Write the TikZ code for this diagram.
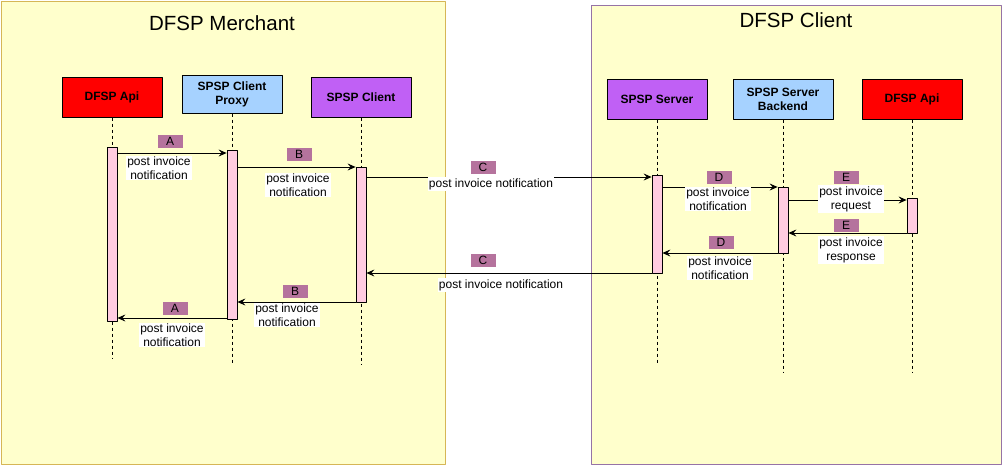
\documentclass[tikz,border=0pt]{standalone}
\usepackage{fontspec}
\setmainfont{Liberation Sans}
\usetikzlibrary{arrows.meta}
\definecolor{panelfill}{HTML}{FFFFCC}
\definecolor{goldline}{HTML}{D6B656}
\definecolor{mauveline}{HTML}{9673A6}
\definecolor{apired}{HTML}{FF0000}
\definecolor{proxyblue}{HTML}{A6D2FF}
\definecolor{spspviolet}{HTML}{C060F5}
\definecolor{barpink}{HTML}{FFCCE0}
\definecolor{tagmauve}{HTML}{B5739D}
\begin{document}
\begin{tikzpicture}[x=1pt, y=-1pt, line join=round, line width=0.8pt,
    >={Stealth[length=8pt,width=7pt,inset=3pt]},
    head/.style={draw, line width=1pt, minimum width=100pt, inner sep=0pt, align=center,
        font=\bfseries\fontsize{12}{14}\selectfont},
    bar/.style={draw, fill=barpink, minimum width=10pt, inner sep=0pt, anchor=north},
    tag/.style={fill=tagmauve, minimum width=25pt, minimum height=13pt, inner sep=0pt,
        font=\fontsize{12}{13}\selectfont},
    msg/.style={fill=white, align=center, inner sep=1pt, font=\fontsize{12}{14}\selectfont}]
    \useasboundingbox (0,0) rectangle (1004,467);
    % the two panels
    \draw[fill=panelfill, draw=goldline] (1,1) rectangle (445,464);
    \draw[fill=panelfill, draw=mauveline] (591,5) rectangle (1001,464);
    \node[font=\fontsize{20.5}{24}\selectfont] (merchant) at (222,23) {DFSP Merchant};
    \node[font=\fontsize{20.5}{24}\selectfont] (client) at (796,20) {DFSP Client};
    % lifeline heads
    \foreach \n/\x/\y/\h/\c/\t in {apiL/112/97/40/apired/{DFSP Api}, proxy/232/94/38/proxyblue/{SPSP Client\\Proxy},
        spcl/361/97/40/spspviolet/{SPSP Client}, spsv/657/99/40/spspviolet/{SPSP Server},
        back/783/99/40/proxyblue/{SPSP Server\\Backend}, apiR/912/99/40/apired/{DFSP Api}}
    \node[head, fill=\c, minimum height=\h pt] (\n) at (\x,\y) {\t};
    % dashed lifelines
    \foreach \n/\e in {apiL/358, proxy/365, spcl/364, spsv/363, back/373, apiR/373}{
        \coordinate (\n-end) at (\n.south |- 0,\e);
        \draw[dashed, line width=0.7pt] (\n.south) -- (\n-end);
    }
    % activation bars
    \foreach \n/\l/\y/\h in {barA/apiL/147/174, barP/proxy/150/169, barC/spcl/167/135,
        barS/spsv/175/98, barB/back/187/66, barR/apiR/198/35}
    \node[bar, minimum height=\h pt] (\n) at (\l.south |- 0,\y) {};
    % messages
    \foreach \s/\sa/\t/\ta/\y in {barA/east/barP/west/153, barP/east/barC/west/167,
        barC/east/barS/west/177, barS/east/barB/west/187, barB/east/barR/west/200,
        barR/west/barB/east/233, barB/west/barS/east/253, barS/west/barC/east/273,
        barC/west/barP/east/302, barP/west/barA/east/318}
    \draw[->] (\s.\sa |- 0,\y) -- (\t.\ta |- 0,\y);
    % step tags
    \foreach \n/\x/\y/\t in {tagA1/170/141/A, tagB1/299/154/B, tagC1/483/167/C, tagD1/719/177/D,
        tagE1/846/177/E, tagE2/846/225/E, tagD2/721/242/D, tagC2/483/260/C,
        tagB2/295/291/B, tagA2/175/308/A}
    \node[tag] (\n) at (\x,\y) {\t};
    % message texts
    \foreach \n/\x/\y/\t in {txtA1/159/168/{post invoice\\notification}, txtB1/298/185/{post invoice\\notification},
        txtC1/491/184/{post invoice notification}, txtD1/718/199/{post invoice\\notification},
        txtE1/851/199/{post invoice\\request}, txtE2/851/250/{post invoice\\response},
        txtD2/720/268/{post invoice\\notification}, txtC2/501/285/{post invoice notification},
        txtB2/287/315/{post invoice\\notification}, txtA2/172/335/{post invoice\\notification}}
    \node[msg] (\n) at (\x,\y) {\t};
\end{tikzpicture}
\end{document}
